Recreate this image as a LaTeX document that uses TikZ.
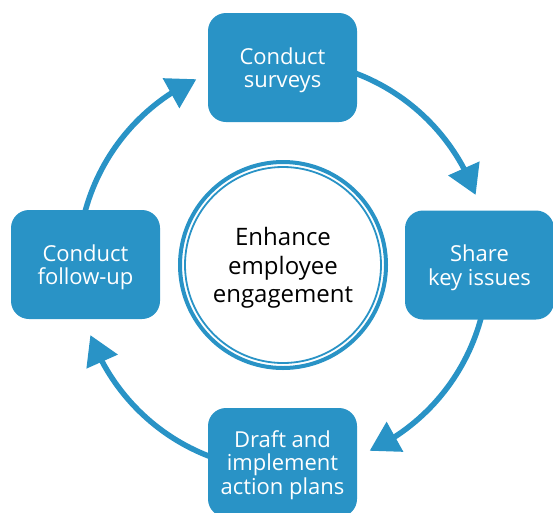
\documentclass[tikz,border=0pt]{standalone}
\usepackage{fontspec}
\setmainfont{Open Sans}
\usetikzlibrary{arrows.meta,bending}
\definecolor{cyc}{RGB}{41,147,198}
\tikzset{
  x=1pt,y=1pt,
  stepbox/.style={fill=cyc, draw=none, rounded corners=18pt, minimum width=149pt,
    minimum height=109pt, text=white, align=center, inner sep=0pt,
    text depth=-0.5pt,
    font=\fontsize{22}{23.5}\selectfont},
  hub/.style={circle, draw=cyc, line width=4pt, minimum size=206pt, inner sep=0pt,
    align=center, text=black, text depth=-0.5pt, font=\fontsize{24}{28.5}\selectfont},
  flow/.style={draw=cyc, line width=5.5pt, -{Triangle[length=29pt,width=33pt,flex]}}
}
\begin{document}
\begin{tikzpicture}
\useasboundingbox (0,0) rectangle (553,-512);
\node[hub] (O) at (283,-265) {Enhance\\employee\\engagement};
\draw[cyc, line width=1.8pt] (O.center) circle[radius=98];
% cycle arrows (drawn before the boxes so their starts are hidden)
\draw[flow] ([shift={(75:205)}]O.center) arc[start angle=75, end angle=20, radius=205];
\draw[flow] ([shift={(-10:205)}]O.center) arc[start angle=-10, end angle=-65, radius=205];
\draw[flow] ([shift={(-105:205)}]O.center) arc[start angle=-105, end angle=-160, radius=205];
\draw[flow] ([shift={(170:205)}]O.center) arc[start angle=170, end angle=115, radius=205];
% step boxes
\node[stepbox] (top) at (282.5,-67.5) {Conduct\\surveys};
\node[stepbox] (right) at (479.5,-265) {Share\\key issues};
\node[stepbox] (bottom) at (282.5,-462.5) {Draft and\\implement\\action plans};
\node[stepbox] (left) at (85.5,-264.5) {Conduct\\follow-up};
\end{tikzpicture}
\end{document}
